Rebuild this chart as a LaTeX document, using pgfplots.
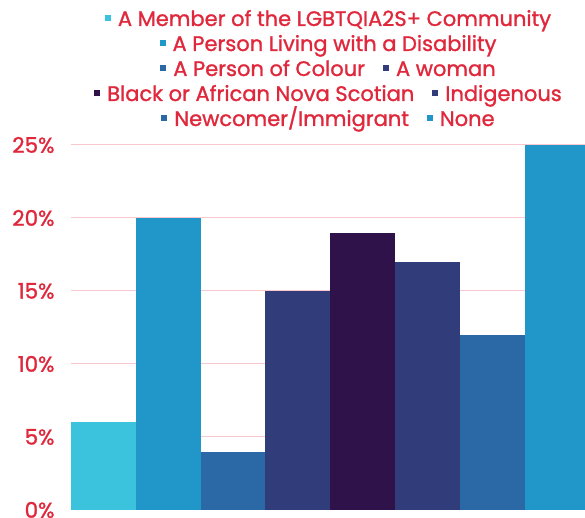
\documentclass[border=0pt]{standalone}
\usepackage{pgfplots}
\pgfplotsset{compat=1.18}
\usepackage{fontspec}
\setmainfont{Poppins}[FakeBold=1.2]
\definecolor{c1}{HTML}{3BC2DC}
\definecolor{c2}{HTML}{2196C8}
\definecolor{c3}{HTML}{2B69A6}
\definecolor{c4}{HTML}{313C7A}
\definecolor{c5}{HTML}{2E1249}
\definecolor{txtred}{HTML}{E0283C}
\definecolor{gridpink}{HTML}{F8C8CE}
\definecolor{axisred}{HTML}{E8848C}
\newcommand{\sq}[1]{{\color{#1}\raisebox{4.5pt}{\rule{6pt}{6pt}}}\hspace{7pt}}
\begin{document}
\begin{tikzpicture}
\useasboundingbox (-71pt,-8pt) rectangle (514pt,510pt);
\begin{axis}[
  scale only axis,
  width=514pt, height=365pt,
  xmin=-0.5, xmax=7.43,
  ymin=0, ymax=25,
  ybar, bar width=1, bar shift=0pt,
  axis x line*=bottom, axis y line*=left,
  x axis line style={draw=axisred, line width=1pt, -},
  y axis line style={draw=none},
  xtick=\empty,
  ytick={0,5,10,15,20,25},
  yticklabels={0\%,5\%,10\%,15\%,20\%,25\%},
  yticklabel style={font=\fontsize{21.5}{24}\selectfont, text=txtred, xshift=-13pt},
  major tick length=0pt,
  ymajorgrids, grid style={draw=gridpink, line width=1pt},
  every axis plot/.append style={draw=none},
]
\addplot[fill=c1] coordinates {(0,6)};
\addplot[fill=c2] coordinates {(1,20)};
\addplot[fill=c3] coordinates {(2,4)};
\addplot[fill=c4] coordinates {(3,15)};
\addplot[fill=c5] coordinates {(4,19)};
\addplot[fill=c4] coordinates {(5,17)};
\addplot[fill=c3] coordinates {(6,12)};
\addplot[fill=c2] coordinates {(7,25)};
\end{axis}
\begin{scope}[every node/.style={anchor=base, inner sep=0pt, text=txtred, font=\fontsize{21}{24}\selectfont}]
\node at (257pt,484pt) {\sq{c1}A Member of the LGBTQIA2S+ Community};
\node at (257pt,459pt) {\sq{c2}A Person Living with a Disability};
\node at (257pt,434pt) {\sq{c3}A Person of Colour\hspace{18pt}\sq{c4}A woman};
\node at (257pt,409pt) {\sq{c5}Black or African Nova Scotian\hspace{18pt}\sq{c4}Indigenous};
\node at (257pt,384pt) {\sq{c3}Newcomer/Immigrant\hspace{18pt}\sq{c2}None};
\end{scope}
\end{tikzpicture}
\end{document}
